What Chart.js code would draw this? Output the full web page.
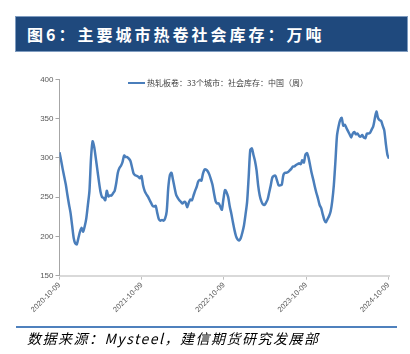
<!DOCTYPE html>
<html>
<head>
<meta charset="utf-8">
<script src="https://cdn.jsdelivr.net/npm/chart.js@4.4.1/dist/chart.umd.min.js"></script>
<style>
  html, body { margin: 0; padding: 0; background: #fff; }
  body { width: 410px; height: 354px; position: relative; overflow: hidden; }
  #title {
    position: absolute; left: 15px; top: 16px; width: 380px; height: 34px;
    background: #1f497d; border: 1px solid #7f9cc0;
    color: #fff; font-family: "Noto Sans CJK SC", sans-serif; font-weight: bold;
    font-size: 16px; letter-spacing: 3px; line-height: 34px; padding-left: 11px; box-sizing: content-box;
  }
  #wrap { position: absolute; left: 0; top: 0; width: 410px; height: 354px; }
  #legend {
    position: absolute; left: 128px; top: 77px; height: 12px; line-height: 12px;
    font-family: "Noto Sans CJK SC", sans-serif; font-size: 8px; color: #404040; white-space: nowrap;
  }
  #legend i { display: inline-block; width: 17px; height: 0; border-top: 2.5px solid #4a7ebb; vertical-align: middle; margin-right: 2px; position: relative; top: -1px; }
  #rule { position: absolute; left: 16px; top: 326px; width: 381px; height: 0; border-top: 2px solid #4f81bd; }
  #source {
    position: absolute; left: 27px; top: 328px; font-family: "Noto Sans CJK SC", sans-serif;
    font-style: italic; font-size: 14px; letter-spacing: 1.5px; color: #000; line-height: 20px;
  }
</style>
</head>
<body>
<div id="wrap"><canvas id="myChart" width="410" height="354"></canvas></div>
<div id="title">图6：主要城市热卷社会库存：万吨</div>
<div id="legend"><i></i><span id="legendText"></span></div>
<div id="rule"></div>
<div id="source">数据来源：Mysteel，建信期货研究发展部</div>
<script>
const startDate = '2020-10-09';
const seriesName = '热轧板卷：33个城市：社会库存：中国（周）';
const tickLabels = ['2020-10-09', '2021-10-09', '2022-10-09', '2023-10-09', '2024-10-09'];
const yTicks = [150, 200, 250, 300, 350, 400];
// weekly stock, 10k tonnes
const stock = [
  307, 297, 286, 276, 266, 253, 241, 230, 214, 198,
  191, 190, 198, 206, 211, 206, 213, 223, 240, 258,
  300, 321, 314, 300, 285, 270, 257, 250, 249, 246,
  258, 251, 252, 252, 255, 258, 268, 281, 287, 290,
  295, 303, 301, 301, 299, 296, 288, 280, 278, 277,
  276, 274, 277, 265, 258, 254, 251, 247, 243, 239,
  238, 239, 230, 222, 220, 221, 220, 223, 232, 262,
  278, 281, 272, 262, 253, 249, 246, 244, 242, 244,
  243, 237, 243, 247, 246, 252, 258, 263, 270, 272,
  271, 280, 285, 285, 283, 279, 273, 266, 255, 245,
  242, 242, 238, 234, 248, 259, 256, 250, 238, 229,
  218, 208, 200, 196, 195, 198, 205, 214, 228, 244,
  276, 310, 312, 304, 296, 284, 265, 252, 245, 241,
  240, 243, 247, 256, 265, 275, 277, 277, 271, 265,
  265, 266, 278, 281, 281, 282, 284, 286, 289, 289,
  291, 292, 293, 292, 297, 294, 304, 306, 300, 290,
  280, 272, 263, 255, 248, 240, 236, 228, 221, 218,
  222, 226, 232, 245, 265, 295, 328, 340, 348, 351,
  341, 342, 338, 334, 330, 326, 331, 333, 330, 331,
  328, 327, 329, 326, 325, 331, 331, 332, 336, 340,
  350, 359, 351, 348, 347, 341, 335, 318, 304, 299
];

document.querySelector('#legendText').textContent = seriesName;

const DAY = 86400000;
const t0 = Date.parse(startDate);
const tickDays = tickLabels.map(d => Math.round((Date.parse(d) - t0) / DAY));
const points = stock.map((v, i) => ({ x: i * 7, y: v }));

const ctx = document.querySelector('#myChart').getContext('2d');
const config = {
  type: 'line',
  data: {
    datasets: [{
      label: seriesName,
      data: points,
      borderColor: '#4a7ebb',
      backgroundColor: '#4a7ebb',
      borderWidth: 2.5,
      pointRadius: 0,
      tension: 0.25,
    }],
  },
  options: {
    responsive: false,
    animation: false,
    layout: { padding: { left: 14.5, top: 79.3, right: 21, bottom: 0 } },
    plugins: {
      legend: { display: false },
      tooltip: { enabled: false },
    },
    scales: {
      x: {
        type: 'linear',
        min: 0,
        max: (stock.length - 1) * 7,
        afterBuildTicks: s => { s.ticks = tickDays.map(v => ({ value: v })); },
        afterFit: s => { s.height = 78.3; },
        ticks: {
          minRotation: 45,
          maxRotation: 45,
          padding: 1,
          color: '#595959',
          font: { family: 'Liberation Sans', size: 7.5 },
          callback: v => tickLabels[tickDays.indexOf(v)],
        },
        grid: { drawOnChartArea: false, tickLength: 4, color: '#bfbfbf' },
        border: { color: '#d9d9d9', width: 2 },
      },
      y: {
        min: 150,
        max: 400,
        afterBuildTicks: s => { s.ticks = yTicks.map(v => ({ value: v })); },
        afterFit: s => { s.width = 45; },
        ticks: {
          padding: 2,
          color: '#595959',
          font: { family: 'Liberation Sans', size: 8 },
        },
        grid: { drawOnChartArea: false, tickLength: 4, color: '#a6a6a6' },
        border: { color: '#a6a6a6', width: 1 },
      },
    },
  },
};

const myChart = new Chart(ctx, config);
</script>
</body>
</html>
